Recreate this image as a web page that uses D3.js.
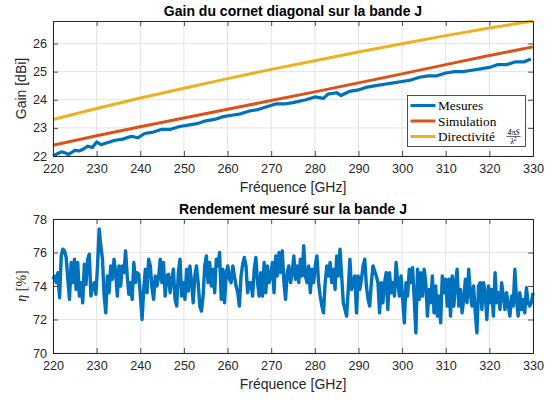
<!DOCTYPE html>
<html>
<head>
<meta charset="utf-8">
<script src="https://cdn.jsdelivr.net/npm/d3@7"></script>
<style>
  body { margin: 0; background: #fff; }
  svg { display: block; font-family: "Liberation Sans", Arial, sans-serif; }
  .tick text { fill: #262626; }
</style>
</head>
<body>
<script>
// Gain data (dBi)
let gainFreq = [220, 221, 222, 223, 223.5, 225, 226, 227, 228, 229, 230, 231, 232, 233, 234, 236, 238, 239.5, 241, 243, 245, 247, 249, 251, 253, 255, 257, 259, 261, 263, 265, 267, 269, 271, 273, 275, 278, 280, 282, 283, 285, 286, 288, 290, 292, 294, 296, 298, 300, 302, 304, 306, 308, 310, 312, 314, 316, 318, 320, 322, 324, 326, 328, 329.5];
let gainMeas = [22.0, 22.08, 22.15, 22.1, 22.05, 22.2, 22.18, 22.25, 22.35, 22.3, 22.5, 22.4, 22.45, 22.5, 22.55, 22.6, 22.7, 22.65, 22.8, 22.85, 22.95, 22.95, 23.05, 23.1, 23.15, 23.25, 23.3, 23.4, 23.45, 23.5, 23.6, 23.65, 23.75, 23.85, 23.85, 23.9, 24.0, 24.1, 24.05, 24.2, 24.25, 24.15, 24.3, 24.35, 24.45, 24.5, 24.55, 24.6, 24.65, 24.7, 24.8, 24.85, 24.85, 24.95, 25.0, 25.0, 25.05, 25.1, 25.15, 25.25, 25.25, 25.35, 25.35, 25.45];

let modelFreq = [220, 230, 240, 250, 260, 270, 280, 290, 300, 310, 320, 330];
let gainSim = [22.38, 22.72, 23.04, 23.35, 23.66, 23.97, 24.28, 24.6, 24.92, 25.25, 25.57, 25.88];
let directivity = [23.3, 23.69, 24.06, 24.41, 24.75, 25.08, 25.39, 25.7, 25.99, 26.28, 26.55, 26.8];

// Measured efficiency (%), sweep 220 -> 330 GHz, equally spaced samples
let effVal = [
  74.4, 74.6, 74.2, 74.8, 73.3, 75.8, 76.2, 76.1, 75.7, 74.4,
  73.2, 75.4, 74.2, 75.6, 73.8, 75.4, 73.4, 74.2, 73.0, 75.3,
  74.1, 75.6, 75.9, 73.4, 74.0, 74.2, 73.5, 75.2, 77.4, 76.4,
  75.6, 73.4, 72.4, 74.6, 73.6, 75.2, 74.4, 75.6, 74.8, 73.4,
  75.2, 74.0, 75.2, 74.8, 76.1, 74.6, 73.5, 74.2, 73.2, 75.4,
  74.2, 74.8, 74.7, 73.4, 72.0, 73.8, 75.0, 73.6, 75.6, 75.2,
  73.9, 73.2, 74.6, 74.0, 74.5, 75.6, 74.2, 75.4, 73.4, 74.6,
  74.7, 73.6, 74.4, 75.0, 73.2, 72.8, 74.8, 75.6, 73.4, 74.2,
  73.2, 75.0, 73.7, 75.2, 74.2, 73.0, 74.6, 75.2, 74.2, 72.8,
  72.5, 73.4, 75.2, 75.8, 74.2, 75.4, 74.0, 75.0, 73.6, 75.6,
  75.2, 76.0, 73.2, 75.0, 73.0, 74.8, 75.2, 74.4, 74.2, 75.2,
  74.6, 74.0, 73.6, 72.8, 74.6, 75.3, 75.7, 75.2, 73.6, 74.2,
  74.2, 73.4, 75.0, 75.7, 74.2, 73.4, 74.8, 73.4, 75.4, 73.6,
  75.2, 74.2, 74.6, 75.4, 73.6, 75.8, 74.6, 76.0, 74.8, 76.1,
  74.2, 73.2, 74.8, 75.2, 74.2, 74.8, 75.8, 74.4, 75.2, 74.2,
  75.6, 74.6, 76.4, 74.6, 74.2, 75.2, 73.6, 75.0, 74.2, 75.2,
  75.8, 74.2, 73.4, 72.8, 72.4, 74.2, 75.2, 74.6, 75.4, 74.2,
  75.0, 73.8, 75.8, 74.6, 76.2, 74.6, 73.0, 72.6, 72.2, 73.8,
  75.6, 73.8, 74.2, 74.6, 72.4, 74.6, 73.8, 74.4, 75.2, 75.6,
  74.0, 73.2, 72.8, 74.2, 75.2, 74.9, 74.6,
  74.2, 72.4, 74.2, 73.0, 74.2, 74.8, 72.6, 74.8, 73.6, 74.2,
  73.4, 75.4, 74.2, 73.4, 74.6, 73.2, 71.8, 74.2, 73.4, 75.0,
  74.2, 75.1, 73.2, 71.2, 75.0, 73.2, 74.8, 73.4, 75.0, 74.2,
  72.2, 73.8, 73.0, 74.6, 72.4, 74.0, 72.2, 73.4, 71.8, 74.6,
  73.6, 74.4, 72.8, 74.4, 72.2, 74.6, 72.8, 74.2, 75.0, 72.8,
  73.8, 72.4, 73.2, 74.4, 73.0, 75.0, 73.6, 72.8, 74.0, 72.4,
  71.2, 74.0, 74.2, 72.6, 74.2, 73.6, 72.0, 74.0, 73.0, 73.8,
  72.2, 74.8, 73.0, 73.6, 72.6, 74.2, 73.4, 72.6, 73.6, 72.8,
  72.2, 73.4, 72.8, 75.0, 73.2, 72.2, 73.6, 72.6, 73.2, 72.4,
  73.9, 73.0, 72.8, 73.0, 73.6
];

let xTicks = [220, 230, 240, 250, 260, 270, 280, 290, 300, 310, 320, 330];
let gainTicks = [22, 23, 24, 25, 26];
let effTicks = [70, 72, 74, 76, 78];

let colors = { meas: '#0072BD', sim: '#D95319', dir: '#EDB120' };
let axisColor = '#262626';
let gridColor = '#e3e3e3';

let width = 555, height = 401;
let svg = d3.select('body').append('svg')
  .attr('width', width)
  .attr('height', height);

let left = 53, right = 533;
let x = d3.scaleLinear().domain([220, 330]).range([left, right]);

function drawPanel(top, bottom, yDomain, yTicks, title) {
  let y = d3.scaleLinear().domain(yDomain).range([bottom, top]);
  let g = svg.append('g');

  // grid
  xTicks.forEach(function(t) {
    g.append('line')
      .attr('x1', x(t)).attr('x2', x(t))
      .attr('y1', top).attr('y2', bottom)
      .attr('stroke', gridColor).attr('stroke-width', 1);
  });
  yTicks.forEach(function(t) {
    g.append('line')
      .attr('x1', left).attr('x2', right)
      .attr('y1', y(t)).attr('y2', y(t))
      .attr('stroke', gridColor).attr('stroke-width', 1);
  });

  let plot = svg.append('g');

  // axes (inward ticks, box)
  let axes = svg.append('g');
  let xAxis = d3.axisBottom(x).tickValues(xTicks).tickSize(-5).tickPadding(8).tickFormat(d3.format('d'));
  let xTop = d3.axisTop(x).tickValues(xTicks).tickSize(-5).tickFormat('');
  let yAxis = d3.axisLeft(y).tickValues(yTicks).tickSize(-5).tickPadding(6).tickFormat(d3.format('d'));
  let yRight = d3.axisRight(y).tickValues(yTicks).tickSize(-5).tickFormat('');

  axes.append('g').attr('transform', 'translate(0,' + bottom + ')').call(xAxis);
  axes.append('g').attr('transform', 'translate(0,' + top + ')').call(xTop);
  axes.append('g').attr('transform', 'translate(' + left + ',0)').call(yAxis);
  axes.append('g').attr('transform', 'translate(' + right + ',0)').call(yRight);
  axes.selectAll('.domain').attr('stroke', axisColor).attr('stroke-width', 1);
  axes.selectAll('.tick line').attr('stroke', axisColor).attr('stroke-width', 0.8);
  axes.selectAll('.tick text').style('font-size', '12.7px').style('font-family', '"Liberation Sans", Arial, sans-serif');

  svg.append('text')
    .attr('x', (left + right) / 2)
    .attr('y', top - 5)
    .attr('text-anchor', 'middle')
    .style('font-size', '14px')
    .style('font-weight', 'bold')
    .style('fill', '#000')
    .text(title);

  svg.append('text')
    .attr('x', (left + right) / 2)
    .attr('y', bottom + 36)
    .attr('text-anchor', 'middle')
    .style('font-size', '14px')
    .style('fill', axisColor)
    .text('Fréquence [GHz]');

  return { y: y, plot: plot };
}

// ---- top panel: gain ----
let p1 = drawPanel(21, 156, [22, 26.8], gainTicks, 'Gain du cornet diagonal sur la bande J');

let lineGain = d3.line().x(function(d) { return x(d[0]); }).y(function(d) { return p1.y(d[1]); });

p1.plot.append('path')
  .datum(d3.zip(modelFreq, directivity))
  .attr('d', lineGain)
  .attr('fill', 'none').attr('stroke', colors.dir).attr('stroke-width', 3);

p1.plot.append('path')
  .datum(d3.zip(modelFreq, gainSim))
  .attr('d', lineGain)
  .attr('fill', 'none').attr('stroke', colors.sim).attr('stroke-width', 3);

p1.plot.append('path')
  .datum(d3.zip(gainFreq, gainMeas))
  .attr('d', lineGain)
  .attr('fill', 'none').attr('stroke', colors.meas).attr('stroke-width', 3.2)
  .attr('stroke-linejoin', 'round');

svg.append('text')
  .attr('transform', 'translate(26,' + ((21 + 156) / 2) + ') rotate(-90)')
  .attr('text-anchor', 'middle')
  .style('font-size', '14px')
  .style('fill', axisColor)
  .text('Gain [dBi]');

// legend
let legend = svg.append('g').attr('transform', 'translate(407.5,95.5)');
legend.append('rect')
  .attr('width', 118).attr('height', 51)
  .attr('fill', '#fff').attr('stroke', axisColor).attr('stroke-width', 0.8);

let legendItems = [
  { label: 'Mesures', color: colors.meas, y: 10 },
  { label: 'Simulation', color: colors.sim, y: 25.5 },
  { label: 'Directivité', color: colors.dir, y: 41 }
];
legendItems.forEach(function(d) {
  legend.append('line')
    .attr('x1', 3).attr('x2', 28)
    .attr('y1', d.y).attr('y2', d.y)
    .attr('stroke', d.color).attr('stroke-width', 3);
  legend.append('text')
    .attr('x', 30.5).attr('y', d.y + 4.5)
    .style('font-family', '"Liberation Serif", "DejaVu Serif", serif')
    .style('font-size', '13.3px')
    .style('fill', '#000')
    .text(d.label);
});
// fraction 4πS / λ²
let frac = legend.append('g').attr('transform', 'translate(106,41)')
  .style('font-family', '"Liberation Serif", "DejaVu Serif", serif')
  .style('font-size', '8px')
  .style('font-style', 'italic');
frac.append('text').attr('x', 0).attr('y', -2).attr('text-anchor', 'middle').text('4πS');
frac.append('line').attr('x1', -7).attr('x2', 7).attr('y1', 0).attr('y2', 0).attr('stroke', '#000').attr('stroke-width', 0.6);
let den = frac.append('text').attr('x', 0).attr('y', 7).attr('text-anchor', 'middle');
den.append('tspan').text('λ');
den.append('tspan').attr('dy', -3).style('font-size', '5.5px').style('font-style', 'normal').text('2');

// ---- bottom panel: efficiency ----
let p2 = drawPanel(219, 353, [70, 78], effTicks, 'Rendement mesuré sur la bande J');
let effFreq = effVal.map(function(d, i) { return 220 + i * 110 / (effVal.length - 1); });

p2.plot.append('path')
  .datum(d3.zip(effFreq, effVal))
  .attr('d', d3.line().x(function(d) { return x(d[0]); }).y(function(d) { return p2.y(d[1]); }))
  .attr('fill', 'none').attr('stroke', colors.meas).attr('stroke-width', 3.4)
  .attr('stroke-linejoin', 'round');

let etaLabel = svg.append('text')
  .attr('transform', 'translate(26,' + ((219 + 353) / 2) + ') rotate(-90)')
  .attr('text-anchor', 'middle')
  .style('font-family', '"Liberation Serif", "DejaVu Serif", serif')
  .style('font-size', '14px')
  .style('fill', axisColor);
etaLabel.append('tspan').style('font-style', 'italic').text('η');
etaLabel.append('tspan').text(' [%]');
</script>
</body>
</html>
